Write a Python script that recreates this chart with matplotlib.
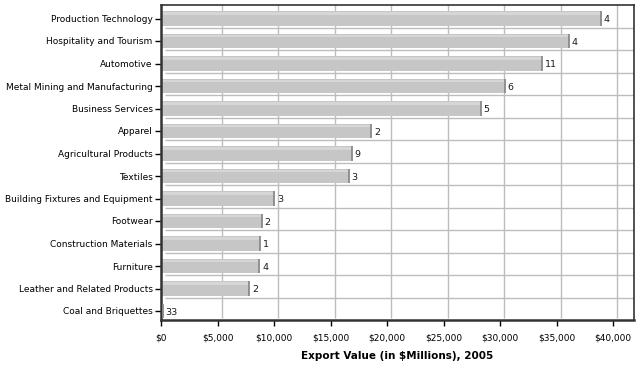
import matplotlib.pyplot as plt
import matplotlib.transforms as mtransforms
import numpy as np

clusters = ['Production Technology', 'Hospitality and Tourism', 'Automotive',
            'Metal Mining and Manufacturing', 'Business Services', 'Apparel',
            'Agricultural Products', 'Textiles', 'Building Fixtures and Equipment',
            'Footwear', 'Construction Materials', 'Furniture',
            'Leather and Related Products', 'Coal and Briquettes']
export_value = [38900, 36100, 33700, 30400, 28300, 18600, 16900, 16600,
                10000, 8900, 8800, 8700, 7800, 150]
counts = [4, 4, 11, 6, 5, 2, 9, 3, 3, 2, 1, 4, 2, 33]
xticks = [0, 5000, 10000, 15000, 20000, 25000, 30000, 35000, 40000]
xtick_labels = ['$0', '$5,000', '$10,000', '$15,000', '$20,000', '$25,000',
                '$30,000', '$35,000', '$40,000']

fig = plt.figure(figsize=(6.42, 3.68), dpi=100)
ax = fig.add_axes([161/642, 48/368, 473/642, 315/368])

y = np.arange(len(clusters))

# back wall grid, shifted a little up and right for the 3D look
shift = mtransforms.ScaledTranslation(4/100, 2/100, fig.dpi_scale_trans)
ax.vlines(xticks[1:], 0, 1, transform=ax.get_xaxis_transform() + shift,
          color='#bdbdbd', lw=1.0, zorder=1)
bounds = np.arange(len(clusters) + 1) - 0.5
ax.hlines(bounds[1:-1], 0, 1, transform=ax.get_yaxis_transform() + shift,
          color='#bdbdbd', lw=1.0, zorder=1)

ax.barh(y, export_value, height=0.66, color='#c6c6c6', zorder=2)
ax.barh(y - 0.22, export_value, height=0.1, color='#d6d6d6', zorder=2)
ax.vlines(export_value, y - 0.33, y + 0.33, color='#8a8a8a', lw=1.3, zorder=3)

for yi, v, c in zip(y, export_value, counts):
    ax.text(v + 250, yi + 0.05, str(c), va='center', ha='left',
            fontsize=6.8, color='#1a1a1a', zorder=4)

ax.set_xlim(0, 41850)
ax.set_ylim(len(clusters) - 0.6, -0.6)
ax.set_yticks(y)
ax.set_yticklabels(clusters, fontsize=6.5)
ax.set_xticks(xticks)
ax.set_xticklabels(xtick_labels, fontsize=6.5)
ax.tick_params(axis='y', length=4, width=1, pad=2)
ax.tick_params(axis='x', length=4, width=1, pad=6)
ax.set_xlabel('Export Value (in $Millions), 2005', fontsize=7.5,
              fontweight='bold', labelpad=6)

for s in ax.spines.values():
    s.set_color('#333333')
    s.set_linewidth(1.2)
ax.spines['bottom'].set_linewidth(1.8)
ax.spines['left'].set_linewidth(1.8)

plt.savefig('out.png', dpi=100)
